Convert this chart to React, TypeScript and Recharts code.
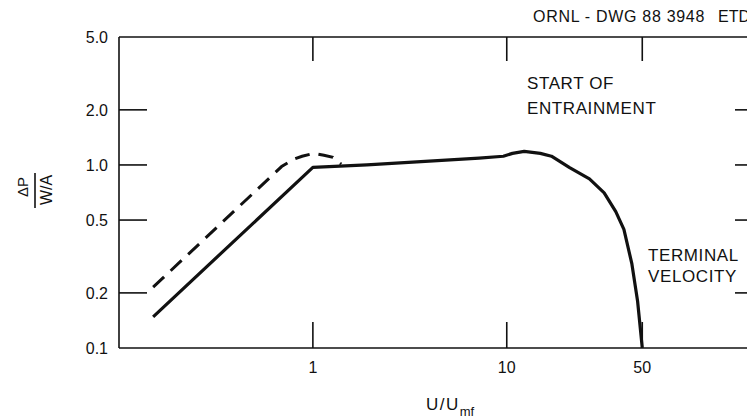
import { LineChart, Line, XAxis, YAxis } from "recharts"

// U/Umf ticks and ΔP/(W/A) ticks
const uTicks = [1, 10, 50]
const uTickLabels = ["1", "10", "50"]
const dpTicks = [0.1, 0.2, 0.5, 1, 2, 5]
const dpTickLabels = ["0.1", "0.2", "0.5", "1.0", "2.0", "5.0"]
const sideTicks = [0.2, 0.5, 1, 2]

// solid curve
const solidU = [0.15, 1, 1.9, 7.2, 9.6, 10.7, 12.3, 14.9, 17, 21.1, 26.7, 31.8, 36.5, 40.2, 44.2, 47.3, 50]
const solidDP = [0.148, 0.97, 1.0, 1.09, 1.116, 1.157, 1.186, 1.157, 1.116, 0.966, 0.839, 0.704, 0.556, 0.445, 0.288, 0.18, 0.1]

// dashed curve
const dashU = [0.15, 0.69, 0.8, 0.88, 1.01, 1.14, 1.27, 1.4]
const dashDP = [0.215, 0.98, 1.076, 1.116, 1.157, 1.13, 1.1, 1.01]

const solid = solidU.map((u, i) => ({ u, dp: solidDP[i] }))
const dashed = dashU.map((u, i) => ({ u, dp: dashDP[i] }))

const ink = "#111"
const font = "'Liberation Sans', Arial, Helvetica, sans-serif"
const axisStyle = { stroke: ink, strokeWidth: 1.6 }

function LeftTick(props: any) {
  const { x, y, payload } = props
  const v = payload.value
  const i = dpTicks.indexOf(v)
  return (
    <g>
      {v > 0.1 && v < 5 && <line x1={x} x2={x + 28} y1={y} y2={y} stroke={ink} strokeWidth={1.6} />}
      <text x={x - 11} y={y} dy={6} textAnchor="end" fontFamily={font} fontSize={16} fill={ink}>
        {dpTickLabels[i]}
      </text>
    </g>
  )
}

function RightTick(props: any) {
  const { x, y } = props
  return <line x1={x} x2={x - 24} y1={y} y2={y} stroke={ink} strokeWidth={1.6} />
}

function BottomTick(props: any) {
  const { x, y, payload } = props
  const i = uTicks.indexOf(payload.value)
  return (
    <g>
      <line x1={x} x2={x} y1={y} y2={y - 26} stroke={ink} strokeWidth={1.6} />
      <text x={x} y={y + 25} textAnchor="middle" fontFamily={font} fontSize={16} fill={ink}>
        {uTickLabels[i]}
      </text>
    </g>
  )
}

function TopTick(props: any) {
  const { x, y } = props
  return <line x1={x} x2={x} y1={y} y2={y + 24} stroke={ink} strokeWidth={1.6} />
}

export default function App() {
  return (
    <div style={{ position: "relative", margin: "-8px 0 0 -8px", width: 755, height: 419, overflow: "hidden", background: "#fff" }}>
      <LineChart width={790} height={419} margin={{ top: 36, right: 30, bottom: 70, left: 118 }}>
        <XAxis
          xAxisId="b"
          dataKey="u"
          type="number"
          scale="log"
          domain={[0.1, 200]}
          allowDataOverflow
          ticks={uTicks}
          interval={0}
          height={1}
          tickSize={0}
          tickMargin={0}
          tickLine={false}
          axisLine={axisStyle}
          tick={<BottomTick />}
        />
        <XAxis
          xAxisId="t"
          orientation="top"
          dataKey="u"
          type="number"
          scale="log"
          domain={[0.1, 200]}
          allowDataOverflow
          ticks={uTicks}
          interval={0}
          height={1}
          tickSize={0}
          tickMargin={0}
          tickLine={false}
          axisLine={axisStyle}
          tick={<TopTick />}
        />
        <YAxis
          yAxisId="l"
          dataKey="dp"
          type="number"
          scale="log"
          domain={[0.1, 5]}
          allowDataOverflow
          ticks={dpTicks}
          interval={0}
          width={1}
          tickSize={0}
          tickMargin={0}
          tickLine={false}
          axisLine={axisStyle}
          tick={<LeftTick />}
        />
        <YAxis
          yAxisId="r"
          orientation="right"
          type="number"
          scale="log"
          domain={[0.1, 5]}
          allowDataOverflow
          ticks={sideTicks}
          interval={0}
          width={1}
          tickSize={0}
          tickMargin={0}
          tickLine={false}
          axisLine={axisStyle}
          tick={<RightTick />}
        />
        <Line
          xAxisId="b"
          yAxisId="l"
          data={dashed}
          dataKey="dp"
          type="linear"
          stroke={ink}
          strokeWidth={3}
          strokeDasharray="15 9"
          dot={false}
          activeDot={false}
          isAnimationActive={false}
        />
        <Line
          xAxisId="b"
          yAxisId="l"
          data={solid}
          dataKey="dp"
          type="linear"
          stroke={ink}
          strokeWidth={3.2}
          strokeLinejoin="round"
          dot={false}
          activeDot={false}
          isAnimationActive={false}
        />
      </LineChart>
      <svg width={755} height={419} style={{ position: "absolute", left: 0, top: 0, pointerEvents: "none" }}>
        <g fontFamily={font} fill={ink}>
          <text x={533} y={22} fontSize={16} letterSpacing={0.7}>ORNL - DWG 88 3948</text>
          <text x={718} y={22} fontSize={16}>ETD</text>
          <text x={527} y={89} fontSize={17} letterSpacing={0.6}>START OF</text>
          <text x={527} y={114} fontSize={17} letterSpacing={0.6}>ENTRAINMENT</text>
          <text x={648} y={261} fontSize={17} letterSpacing={0.6}>TERMINAL</text>
          <text x={648} y={282} fontSize={17} letterSpacing={0.6}>VELOCITY</text>
          <text x={426} y={410} fontSize={17} letterSpacing={1.5}>
            U/U<tspan fontSize={13} dy={6} letterSpacing={0}>mf</tspan>
          </text>
          <text transform="translate(28 187) rotate(-90)" textAnchor="middle" fontSize={15}>ΔP</text>
          <line x1={35} x2={35} y1={173} y2={208} stroke={ink} strokeWidth={1.6} />
          <text transform="translate(52 190) rotate(-90)" textAnchor="middle" fontSize={16}>W/A</text>
        </g>
      </svg>
    </div>
  )
}
